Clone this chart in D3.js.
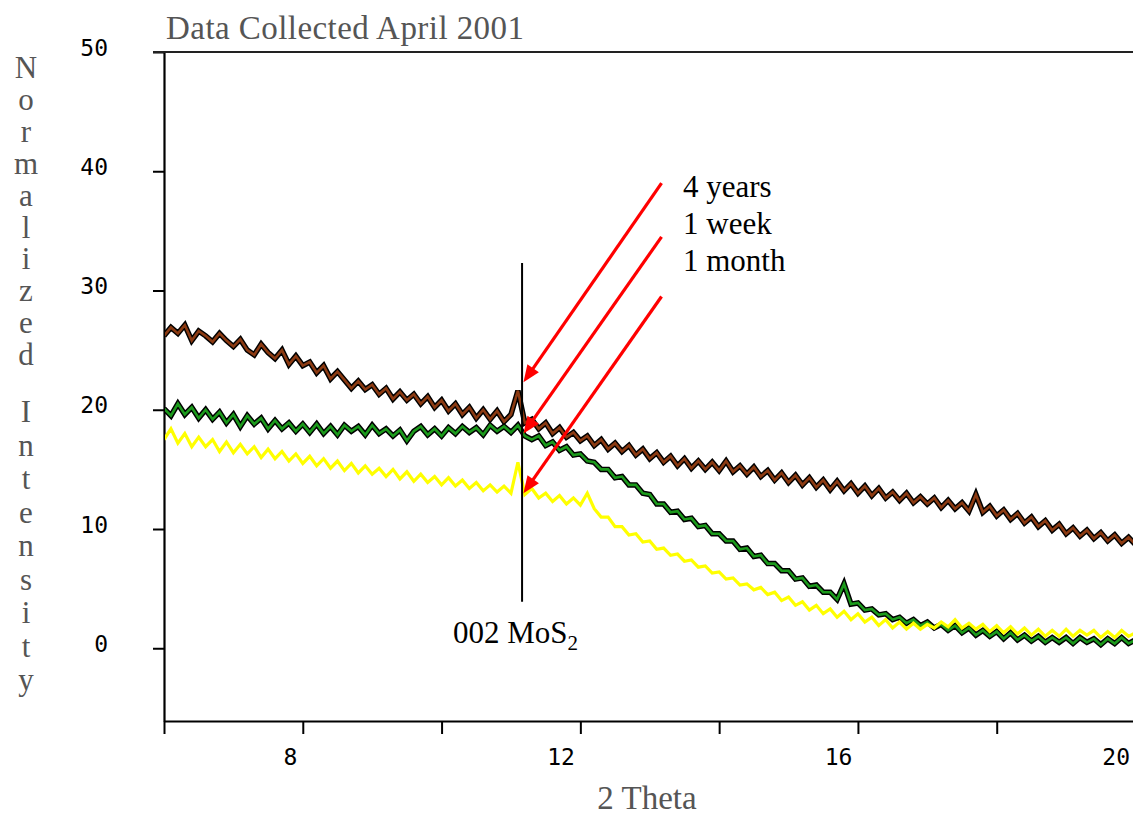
<!DOCTYPE html>
<html>
<head>
<meta charset="utf-8">
<script src="https://cdn.jsdelivr.net/npm/d3@7"></script>
<style>
  body { margin: 0; background: #fff; }
  svg { display: block; }
  .tick text { font-family: "DejaVu Sans Mono", monospace; font-size: 23px; fill: #000; }
  .serif { font-family: "Liberation Serif", "Times New Roman", serif; }
</style>
</head>
<body>
<svg id="chart" width="1133" height="819"></svg>
<script>
// 2 theta sample positions (degrees)
const theta = [
  6.0, 6.1, 6.2, 6.3, 6.4, 6.5, 6.6, 6.7, 6.8, 6.9,
  7.0, 7.1, 7.2, 7.3, 7.4, 7.5, 7.6, 7.7, 7.8, 7.9,
  8.0, 8.1, 8.2, 8.3, 8.4, 8.5, 8.6, 8.7, 8.8, 8.9,
  9.0, 9.1, 9.2, 9.3, 9.4, 9.5, 9.6, 9.7, 9.8, 9.9,
  10.0, 10.1, 10.2, 10.3, 10.4, 10.5, 10.6, 10.7, 10.8, 10.9,
  11.0, 11.1, 11.2, 11.3, 11.4, 11.5, 11.6, 11.7, 11.8, 11.9,
  12.0, 12.1, 12.2, 12.3, 12.4, 12.5, 12.6, 12.7, 12.8, 12.9,
  13.0, 13.1, 13.2, 13.3, 13.4, 13.5, 13.6, 13.7, 13.8, 13.9,
  14.0, 14.1, 14.2, 14.3, 14.4, 14.5, 14.6, 14.7, 14.8, 14.9,
  15.0, 15.1, 15.2, 15.3, 15.4, 15.5, 15.6, 15.7, 15.8, 15.9,
  16.0, 16.1, 16.2, 16.3, 16.4, 16.5, 16.6, 16.7, 16.8, 16.9,
  17.0, 17.1, 17.2, 17.3, 17.4, 17.5, 17.6, 17.7, 17.8, 17.9,
  18.0, 18.1, 18.2, 18.3, 18.4, 18.5, 18.6, 18.7, 18.8, 18.9,
  19.0, 19.1, 19.2, 19.3, 19.4, 19.5, 19.6, 19.7, 19.8, 19.9,
  20.0
];

// normalized intensity, sample aged 4 years (brown)
const fourYears = [
  26.2, 26.9, 26.4, 27.1, 25.8, 26.6, 26.2, 25.7, 26.4, 25.8,
  25.3, 25.9, 25.0, 24.6, 25.5, 24.8, 24.3, 25.0, 23.8, 24.5,
  23.7, 24.0, 23.1, 23.7, 22.6, 23.2, 22.5, 21.8, 22.4, 21.7,
  22.1, 21.3, 21.8, 20.9, 21.5, 20.8, 21.3, 20.5, 21.1, 20.2,
  20.8, 19.9, 20.5, 19.6, 20.2, 19.3, 20.0, 19.2, 19.9, 19.0,
  19.6, 21.6, 18.9, 19.2, 18.4, 18.9, 18.0, 18.5, 17.7, 18.1,
  17.4, 17.8, 17.0, 17.5, 16.7, 17.2, 16.5, 17.0, 16.2, 16.7,
  15.9, 16.4, 15.6, 16.1, 15.3, 15.9, 15.1, 15.7, 15.0, 15.6,
  14.9, 15.7, 14.8, 15.3, 14.6, 15.2, 14.4, 14.9, 14.1, 14.7,
  13.9, 14.5, 13.7, 14.3, 13.5, 14.1, 13.3, 14.0, 13.2, 13.8,
  13.0, 13.6, 12.8, 13.4, 12.6, 13.1, 12.4, 13.0, 12.2, 12.7,
  12.1, 12.6, 11.8, 12.4, 11.7, 12.2, 11.5, 12.9, 11.4, 11.9,
  11.1, 11.6, 10.8, 11.3, 10.5, 11.0, 10.2, 10.7, 9.9, 10.4,
  9.6, 10.1, 9.4, 9.9, 9.2, 9.7, 9.0, 9.5, 8.8, 9.3,
  8.7
];

// sample aged 1 week (green)
const oneWeek = [
  20.1, 19.5, 20.5, 19.6, 20.2, 19.3, 20.0, 19.2, 19.8, 18.9,
  19.6, 18.6, 19.5, 18.8, 19.3, 18.4, 19.1, 18.4, 18.9, 18.2,
  18.8, 18.1, 18.8, 18.0, 18.6, 17.9, 18.7, 18.2, 18.6, 17.9,
  18.7, 18.0, 18.4, 17.8, 18.3, 17.4, 18.2, 18.6, 17.9, 18.4,
  17.8, 18.5, 18.0, 18.6, 18.1, 18.5, 17.9, 18.7, 18.2, 18.6,
  18.1, 18.7, 17.8, 17.5, 17.8, 17.0, 17.3, 16.6, 16.9, 16.2,
  16.3, 15.7, 15.6, 15.0, 15.0, 14.3, 14.4, 13.7, 13.7, 13.0,
  12.9, 12.1, 12.1, 11.4, 11.5, 10.8, 10.9, 10.2, 10.3, 9.6,
  9.6, 9.0, 9.0, 8.3, 8.4, 7.7, 7.8, 7.1, 7.1, 6.5,
  6.5, 5.8, 5.9, 5.2, 5.3, 4.7, 4.7, 4.1, 5.4, 3.7,
  3.8, 3.2, 3.3, 2.8, 2.9, 2.4, 2.6, 2.1, 2.4, 1.9,
  2.2, 1.7, 2.0, 1.5, 1.9, 1.3, 1.7, 1.1, 1.5, 1.0,
  1.4, 0.8, 1.3, 0.7, 1.1, 0.6, 1.0, 0.5, 0.9, 0.5,
  0.9, 0.4, 0.9, 0.5, 0.8, 0.3, 0.8, 0.4, 0.9, 0.4,
  0.7
];

// sample aged 1 month (yellow)
const oneMonth = [
  17.5, 18.4, 17.2, 18.0, 16.9, 17.7, 16.9, 17.5, 16.5, 17.3,
  16.4, 17.1, 16.3, 16.9, 16.0, 16.7, 15.9, 16.5, 15.7, 16.3,
  15.5, 16.1, 15.3, 15.9, 15.1, 15.7, 14.9, 15.5, 14.7, 15.3,
  14.6, 15.1, 14.4, 15.0, 14.2, 14.8, 14.0, 14.6, 13.9, 14.4,
  13.7, 14.3, 13.6, 14.1, 13.4, 13.9, 13.2, 13.7, 13.1, 13.6,
  13.0, 15.6, 12.9, 13.4, 12.6, 13.0, 12.3, 12.8, 12.1, 12.6,
  12.0, 13.0, 11.7, 11.0, 11.0, 10.2, 10.2, 9.5, 9.6, 8.9,
  9.0, 8.3, 8.4, 7.8, 7.9, 7.3, 7.4, 6.8, 6.9, 6.3,
  6.4, 5.8, 5.9, 5.3, 5.4, 4.9, 5.1, 4.5, 4.7, 4.0,
  4.3, 3.6, 3.9, 3.2, 3.6, 2.9, 3.3, 2.6, 3.1, 2.4,
  2.9, 2.2, 2.6, 1.9, 2.4, 1.7, 2.2, 1.6, 2.1, 1.6,
  2.0, 1.7, 2.2, 1.8, 2.4, 1.7, 2.1, 1.6, 2.0, 1.4,
  1.9, 1.3, 1.8, 1.2, 1.7, 1.1, 1.6, 1.0, 1.5, 1.0,
  1.6, 1.0, 1.5, 1.1, 1.5, 0.9, 1.4, 0.9, 1.5, 1.0,
  1.3
];

const yTicks = [0, 10, 20, 30, 40, 50];
const xTicks = [6, 8, 10, 12, 14, 16, 18, 20];
const xLabelled = [8, 12, 16, 20];

// annotation: peak position and arrows (start / tip in data units)
const peakTheta = 11.16;
const peakLine = [32.3, 3.9];
const arrowFrom = [[13.17, 39.0], [13.17, 34.5], [13.17, 29.5]];
const arrowTo = [[11.18, 22.3], [11.18, 18.0], [11.18, 13.0]];
const ageLabels = ["4 years", "1 week", "1 month"];

const svg = d3.select("#chart");
const W = 1133;

const x = d3.scaleLinear().domain([6, 20]).range([164, 1135.5]);
const y = d3.scaleLinear().domain([-6.1, 50]).range([721, 52]);

svg.append("defs").append("clipPath").attr("id", "plotclip")
  .append("rect")
  .attr("x", x(6) + 1).attr("y", y(50))
  .attr("width", W - x(6)).attr("height", y(-6.1) - y(50));

// title
svg.append("text").attr("class", "serif")
  .attr("x", 166).attr("y", 39)
  .attr("font-size", 33).attr("fill", "#555")
  .attr("textLength", 358)
  .text("Data Collected April 2001");

// x label
svg.append("text").attr("class", "serif")
  .attr("x", 647).attr("y", 809)
  .attr("text-anchor", "middle")
  .attr("font-size", 33).attr("fill", "#555")
  .text("2 Theta");

// y label, one letter per line
const yl = svg.append("text").attr("class", "serif")
  .attr("font-size", 31).attr("fill", "#555").attr("text-anchor", "middle");
"Normalized".split("").forEach((c, i) => {
  yl.append("tspan").attr("x", 26).attr("y", 78 + i * 31.9).text(c);
});
"Intensity".split("").forEach((c, i) => {
  yl.append("tspan").attr("x", 26).attr("y", 422 + i * 33.5).text(c);
});

// axes
const gx = svg.append("g").attr("transform", `translate(0,${y(-6.1)})`)
  .call(d3.axisBottom(x).tickValues(xTicks).tickSize(13).tickSizeOuter(0)
    .tickFormat(d => xLabelled.includes(d) ? d : ""));
gx.select(".domain").attr("stroke-width", 2.2);
gx.selectAll(".tick line").attr("stroke-width", 2);
gx.selectAll(".tick text").attr("text-anchor", "end").attr("x", -6).attr("y", 44).attr("dy", 0);

const gy = svg.append("g").attr("transform", `translate(${x(6)},0)`)
  .call(d3.axisLeft(y).tickValues(yTicks).tickSize(11).tickSizeOuter(0));
gy.select(".domain").attr("stroke-width", 2.2);
gy.selectAll(".tick line").attr("stroke-width", 2);
gy.selectAll(".tick text").attr("x", -56).attr("y", 3).attr("dy", 0);

// top border
svg.append("line")
  .attr("x1", x(6) - 11).attr("x2", W)
  .attr("y1", y(50)).attr("y2", y(50))
  .attr("stroke", "#222").attr("stroke-width", 2.2);

// data
const line = d3.line()
  .x((d, i) => x(theta[i]))
  .y(d => y(d));

const plot = svg.append("g").attr("clip-path", "url(#plotclip)");

[[fourYears, "#8b3a12"], [oneWeek, "#1c9a1c"]].forEach(([vals, col]) => {
  plot.append("path").datum(vals).attr("d", line)
    .attr("fill", "none").attr("stroke", "#000").attr("stroke-width", 5.5)
    .attr("stroke-linejoin", "miter");
  plot.append("path").datum(vals).attr("d", line)
    .attr("fill", "none").attr("stroke", col).attr("stroke-width", 2.6);
});
plot.append("path").datum(oneMonth).attr("d", line)
  .attr("fill", "none").attr("stroke", "#ffff00").attr("stroke-width", 3.2);

// peak marker line
svg.append("line")
  .attr("x1", x(peakTheta)).attr("x2", x(peakTheta))
  .attr("y1", y(peakLine[0])).attr("y2", y(peakLine[1]))
  .attr("stroke", "#000").attr("stroke-width", 2);

// label under the peak line
svg.append("text").attr("class", "serif")
  .attr("x", 453).attr("y", 643)
  .attr("font-size", 31).attr("fill", "#000")
  .call(t => {
    t.append("tspan").text("002 MoS");
    t.append("tspan").attr("font-size", 21).attr("dy", 7).text("2");
  });

// arrows
arrowFrom.forEach((s, i) => {
  const x0 = x(s[0]), y0 = y(s[1]);
  const x1 = x(arrowTo[i][0]), y1 = y(arrowTo[i][1]);
  const ang = Math.atan2(y1 - y0, x1 - x0);
  const len = 17, half = 7;
  const bx = x1 - len * Math.cos(ang), by = y1 - len * Math.sin(ang);
  svg.append("line")
    .attr("x1", x0).attr("y1", y0)
    .attr("x2", x1 - 10 * Math.cos(ang)).attr("y2", y1 - 10 * Math.sin(ang))
    .attr("stroke", "#ff0000").attr("stroke-width", 3.2);
  svg.append("path")
    .attr("d", `M${x1},${y1}L${bx - half * Math.sin(ang)},${by + half * Math.cos(ang)}` +
      `L${bx + half * Math.sin(ang)},${by - half * Math.cos(ang)}Z`)
    .attr("fill", "#ff0000");
});

// age labels
svg.append("g").selectAll("text").data(ageLabels).join("text")
  .attr("class", "serif")
  .attr("x", 683).attr("y", (d, i) => 197 + i * 37)
  .attr("font-size", 31).attr("fill", "#000")
  .text(d => d);
</script>
</body>
</html>
